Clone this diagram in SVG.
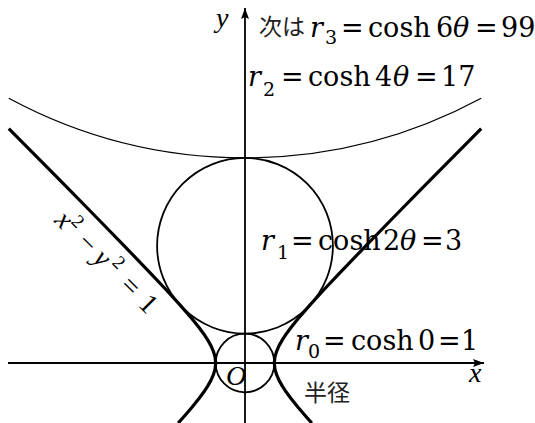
<svg xmlns="http://www.w3.org/2000/svg" width="535" height="423" viewBox="0 0 535 423">
<style>
.m{font-family:"DejaVu Serif","Liberation Serif",serif;font-size:27px;fill:#000}
.i{font-style:italic}
.s{font-size:19px}
.j{font-family:"Noto Sans CJK JP","Noto Sans CJK SC",sans-serif;font-size:23px;fill:#222}
.lab{font-family:"Liberation Serif",serif;font-size:28px;font-style:italic;fill:#000}
.thin{fill:none;stroke:#000;stroke-width:1.8}
.hyp{fill:none;stroke:#000;stroke-width:3.2;stroke-linejoin:round;stroke-linecap:butt}
</style>
<defs>
<marker id="arr" markerUnits="userSpaceOnUse" markerWidth="12" markerHeight="10" refX="11" refY="4" orient="auto">
<path d="M0,0 L11,4 L0,8 L2,4 z" fill="#000"/>
</marker>
</defs>
<rect width="535" height="423" fill="#fff"/>
<g id="connectors">
<g id="axes">
<line x1="8" y1="363" x2="484" y2="363" class="thin" marker-end="url(#arr)"/>
<line x1="245" y1="423" x2="245" y2="8" class="thin" marker-end="url(#arr)"/>
</g>
<g id="hyperbola">
<path class="hyp" d="M8.8,128.6 L37.8,157.9 L66.8,187.2 L95.6,216.5 L124.2,245.8 L152.3,275.1 L166.1,289.75 L179.5,304.4 L192.2,319.05 L199.2,327.8 L203.6,333.7 L207.5,339.6 L210.8,345.4 L213.4,351.3 L215.1,357.1 L215.7,363 L215.1,368.9 L213.4,374.7 L210.8,380.6 L207.5,386.4 L203.6,392.3 L199.2,398.2 L192.2,407 L184.7,415.7 L178.2,423.1"/>
<path class="hyp" d="M481.2,128.6 L452.2,157.9 L423.2,187.2 L394.4,216.5 L365.8,245.8 L337.7,275.1 L323.9,289.75 L310.5,304.4 L297.8,319.05 L290.8,327.8 L286.4,333.7 L282.5,339.6 L279.2,345.4 L276.6,351.3 L274.9,357.1 L274.3,363 L274.9,368.9 L276.6,374.7 L279.2,380.6 L282.5,386.4 L286.4,392.3 L290.8,398.2 L297.8,407 L305.3,415.7 L311.8,423.1"/>
</g>
</g>
<g id="circle-r0"><circle cx="245" cy="363" r="29.3" class="thin"/></g>
<g id="circle-r1"><circle cx="245" cy="245.8" r="87.9" class="thin"/></g>
<g id="circle-r2"><path d="M8.8,98.3 A498.1,498.1 0 0 0 481.2,98.3" fill="none" stroke="#000" stroke-width="1.3"/></g>
<g id="labels">
<text class="lab" x="216" y="27">y</text>
<text class="lab" x="469" y="382">x</text>
<text class="lab" x="226" y="385">O</text>
<text class="j" x="259" y="35">次は</text>
<text class="j" x="304" y="401" font-size="26">半径</text>
<text class="m"><tspan class="i" x="310" y="37">r</tspan><tspan class="s" x="325" y="44">3</tspan><tspan x="341" y="37">=</tspan><tspan x="368" y="37">cosh</tspan><tspan x="436" y="37">6</tspan><tspan class="i" x="453" y="37">θ</tspan><tspan x="475" y="37">=</tspan><tspan x="501" y="37">99</tspan></text>
<text class="m"><tspan class="i" x="248" y="86">r</tspan><tspan class="s" x="263" y="96">2</tspan><tspan x="281" y="86">=</tspan><tspan x="308" y="86">cosh</tspan><tspan x="375" y="86">4</tspan><tspan class="i" x="393" y="86">θ</tspan><tspan x="415" y="86">=</tspan><tspan x="441" y="86">17</tspan></text>
<text class="m"><tspan class="i" x="261" y="250">r</tspan><tspan class="s" x="277" y="259">1</tspan><tspan x="291" y="250">=</tspan><tspan x="318" y="250">cosh</tspan><tspan x="383" y="250">2</tspan><tspan class="i" x="400" y="250">θ</tspan><tspan x="421" y="250">=</tspan><tspan x="445" y="250">3</tspan></text>
<text class="m"><tspan class="i" x="295" y="350">r</tspan><tspan class="s" x="308" y="358">0</tspan><tspan x="323" y="350">=</tspan><tspan x="351" y="350">cosh</tspan><tspan x="418" y="350">0</tspan><tspan x="438" y="350">=</tspan><tspan x="461" y="350">1</tspan></text>
<g transform="translate(53,221) rotate(45)">
<text class="lab" text-anchor="middle"><tspan x="7" y="0">x</tspan><tspan x="18" y="-11" font-size="19" font-style="normal">2</tspan><tspan x="40" y="0" font-style="normal">−</tspan><tspan x="61" y="0">y</tspan><tspan x="76" y="-11" font-size="19" font-style="normal">2</tspan><tspan x="101" y="0" font-style="normal">=</tspan><tspan x="126" y="0" font-style="normal">1</tspan></text>
</g>
</g>
</svg>
